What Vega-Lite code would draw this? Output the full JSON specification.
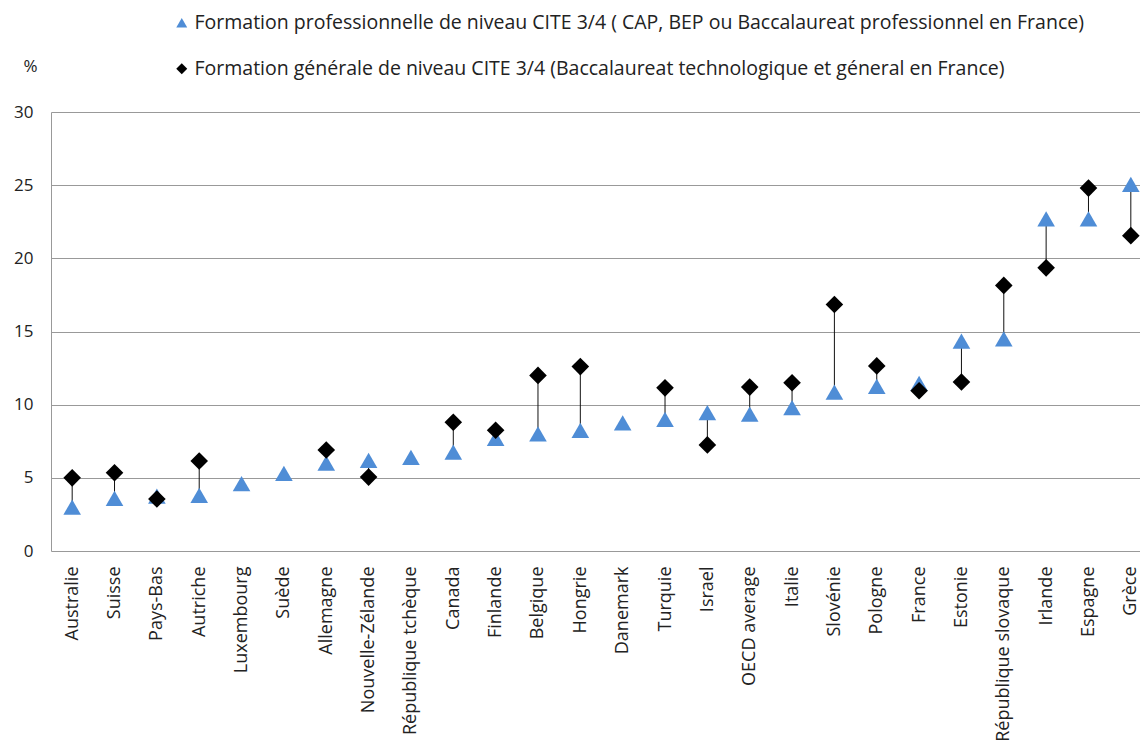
{
  "$schema": "https://vega.github.io/schema/vega-lite/v6.json",
  "width": 1101,
  "height": 439,
  "autosize": {"type": "none"},
  "padding": {"left": 51, "top": 112, "right": 0, "bottom": 200},
  "background": "white",
  "config": {
    "font": "Open Sans",
    "view": {"stroke": null},
    "axis": {"labelFont": "Open Sans", "labelColor": "#222", "titleFont": "Open Sans"}
  },
  "data": {
    "values": [
      {"pays": "Australie", "pro": 3.0, "gen": 5.0},
      {"pays": "Suisse", "pro": 3.6, "gen": 5.35},
      {"pays": "Pays-Bas", "pro": 3.75, "gen": 3.55},
      {"pays": "Autriche", "pro": 3.8, "gen": 6.15},
      {"pays": "Luxembourg", "pro": 4.6, "gen": null},
      {"pays": "Suède", "pro": 5.3, "gen": null},
      {"pays": "Allemagne", "pro": 6.0, "gen": 6.9},
      {"pays": "Nouvelle-Zélande", "pro": 6.2, "gen": 5.05},
      {"pays": "République tchèque", "pro": 6.4, "gen": null},
      {"pays": "Canada", "pro": 6.75, "gen": 8.8},
      {"pays": "Finlande", "pro": 7.7, "gen": 8.25},
      {"pays": "Belgique", "pro": 8.0, "gen": 12.0},
      {"pays": "Hongrie", "pro": 8.25, "gen": 12.6},
      {"pays": "Danemark", "pro": 8.75, "gen": null},
      {"pays": "Turquie", "pro": 9.0, "gen": 11.15},
      {"pays": "Israel", "pro": 9.45, "gen": 7.25},
      {"pays": "OECD average", "pro": 9.35, "gen": 11.2},
      {"pays": "Italie", "pro": 9.8, "gen": 11.5},
      {"pays": "Slovénie", "pro": 10.85, "gen": 16.85},
      {"pays": "Pologne", "pro": 11.25, "gen": 12.65},
      {"pays": "France", "pro": 11.45, "gen": 10.95},
      {"pays": "Estonie", "pro": 14.35, "gen": 11.55},
      {"pays": "République slovaque", "pro": 14.5, "gen": 18.15},
      {"pays": "Irlande", "pro": 22.7, "gen": 19.35},
      {"pays": "Espagne", "pro": 22.7, "gen": 24.8},
      {"pays": "Grèce", "pro": 25.05, "gen": 21.55}
    ]
  },
  "encoding": {
    "x": {
      "field": "pays",
      "type": "nominal",
      "sort": ["Australie", "Suisse", "Pays-Bas", "Autriche", "Luxembourg", "Suède", "Allemagne", "Nouvelle-Zélande", "République tchèque", "Canada", "Finlande", "Belgique", "Hongrie", "Danemark", "Turquie", "Israel", "OECD average", "Italie", "Slovénie", "Pologne", "France", "Estonie", "République slovaque", "Irlande", "Espagne", "Grèce"],
      "scale": {"type": "point", "padding": 0.5},
      "axis": {
        "title": null,
        "labelAngle": -90,
        "labelAlign": "right",
        "labelBaseline": "middle",
        "labelFontSize": 18,
        "labelPadding": 15,
        "ticks": false,
        "domain": false,
        "grid": false,
        "labelLimit": 300
      }
    }
  },
  "layer": [
    {
      "mark": {"type": "rule", "color": "#111", "strokeWidth": 1},
      "transform": [{"filter": "datum.gen != null"}],
      "encoding": {
        "y": {"field": "pro", "type": "quantitative"},
        "y2": {"field": "gen"}
      }
    },
    {
      "transform": [
        {"fold": ["pro", "gen"], "as": ["serie", "valeur"]},
        {"filter": "datum.valeur != null"}
      ],
      "mark": {"type": "point", "filled": true, "opacity": 1, "size": 310},
      "encoding": {
        "y": {
          "field": "valeur",
          "type": "quantitative",
          "scale": {"domain": [0, 30], "nice": false},
          "axis": {
            "values": [0, 5, 10, 15, 20, 25, 30],
            "title": "%",
            "titleAngle": 0,
            "titleX": -21,
            "titleY": -37,
            "titleFontSize": 17,
            "titleFontWeight": "normal",
            "titleColor": "#222",
            "labelFontSize": 17,
            "labelPadding": 18,
            "ticks": false,
            "domainColor": "#999",
            "gridColor": "#999",
            "gridWidth": 1
          }
        },
        "shape": {
          "field": "serie",
          "type": "nominal",
          "scale": {"domain": ["pro", "gen"], "range": ["triangle-up", "diamond"]},
          "legend": {
            "title": null,
            "orient": "none",
            "legendX": 121,
            "legendY": -99,
            "direction": "vertical",
            "padding": 0,
            "labelFontSize": 19.5,
            "labelColor": "#222",
            "labelLimit": 1000,
            "symbolSize": 120,
            "rowPadding": 25,
            "labelOffset": 3,
            "labelExpr": "datum.value == 'pro' ? 'Formation professionnelle de niveau CITE 3/4 ( CAP, BEP ou Baccalaureat professionnel en France)' : 'Formation générale de niveau CITE 3/4 (Baccalaureat technologique et géneral en France)'"
          }
        },
        "color": {
          "field": "serie",
          "type": "nominal",
          "scale": {"domain": ["pro", "gen"], "range": ["#4f8dd6", "#000000"]}
        }
      }
    }
  ]
}
